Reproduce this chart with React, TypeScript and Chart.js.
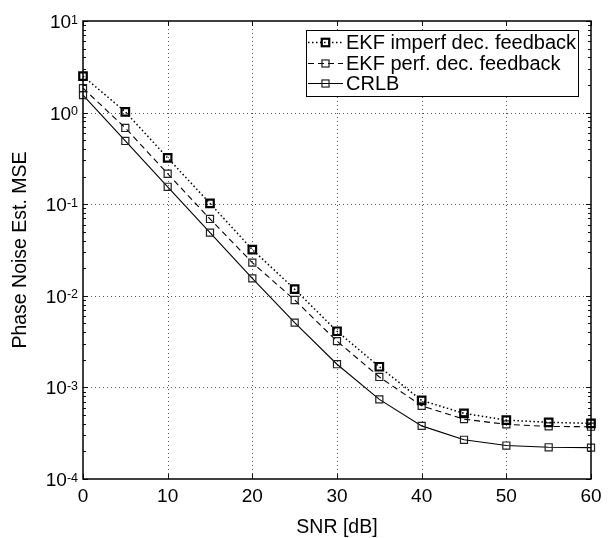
import { useEffect, useRef } from 'react';
import { Chart, registerables } from 'chart.js';

Chart.register(...registerables);

const snr = [0, 5, 10, 15, 20, 25, 30, 35, 40, 45, 50, 55, 60];
const ekfImperf = [2.5, 1.02, 0.32, 0.102, 0.032, 0.0118, 0.0041, 0.00168, 7.2e-4, 5.2e-4, 4.4e-4, 4.15e-4, 4.05e-4];
const ekfPerf = [1.85, 0.68, 0.215, 0.069, 0.023, 0.009, 0.0032, 0.0013, 6.3e-4, 4.5e-4, 3.95e-4, 3.75e-4, 3.72e-4];
const crlb = [1.55, 0.49, 0.155, 0.049, 0.0155, 0.0051, 0.00179, 7.4e-4, 3.8e-4, 2.68e-4, 2.32e-4, 2.22e-4, 2.2e-4];
const seriesNames = ['EKF imperf dec. feedback', 'EKF perf. dec. feedback', 'CRLB'];
const xTicks = [0, 10, 20, 30, 40, 50, 60];
const yExponents = [-4, -3, -2, -1, 0, 1];
const xTitle = 'SNR [dB]';
const yTitle = 'Phase Noise Est. MSE';

const FONT = '"Liberation Sans", Arial, sans-serif';

const framePlugin = {
  id: 'frame',
  beforeDatasetsDraw(chart: any) {
    const { ctx, chartArea: a, scales } = chart;
    const xs = scales.x;
    const ys = scales.y;
    ctx.save();
    ctx.strokeStyle = 'rgba(40,40,40,0.8)';
    ctx.lineWidth = 1;
    ctx.setLineDash([1, 3]);
    for (const t of xTicks) {
      if (t === xTicks[0] || t === xTicks[xTicks.length - 1]) continue;
      const x = Math.round(xs.getPixelForValue(t)) + 0.5;
      ctx.beginPath();
      ctx.moveTo(x, a.top);
      ctx.lineTo(x, a.bottom);
      ctx.stroke();
    }
    for (const e of yExponents) {
      if (e === yExponents[0] || e === yExponents[yExponents.length - 1]) continue;
      const y = Math.round(ys.getPixelForValue(Math.pow(10, e))) + 0.5;
      ctx.beginPath();
      ctx.moveTo(a.left, y);
      ctx.lineTo(a.right, y);
      ctx.stroke();
    }
    ctx.restore();
  },
  afterDatasetsDraw(chart: any) {
    const { ctx, chartArea: a, scales } = chart;
    const xs = scales.x;
    const ys = scales.y;
    ctx.save();
    ctx.setLineDash([]);
    ctx.strokeStyle = '#111';
    ctx.lineWidth = 1;
    ctx.beginPath();
    for (const t of xTicks) {
      const x = Math.round(xs.getPixelForValue(t)) + 0.5;
      ctx.moveTo(x, a.bottom);
      ctx.lineTo(x, a.bottom - 5);
      ctx.moveTo(x, a.top);
      ctx.lineTo(x, a.top + 5);
    }
    for (let i = 0; i < yExponents.length; i++) {
      const e = yExponents[i];
      const y = Math.round(ys.getPixelForValue(Math.pow(10, e))) + 0.5;
      ctx.moveTo(a.left, y);
      ctx.lineTo(a.left + 5, y);
      ctx.moveTo(a.right, y);
      ctx.lineTo(a.right - 5, y);
      if (i < yExponents.length - 1) {
        for (let m = 2; m <= 9; m++) {
          const ym = Math.round(ys.getPixelForValue(m * Math.pow(10, e))) + 0.5;
          ctx.moveTo(a.left, ym);
          ctx.lineTo(a.left + 3, ym);
          ctx.moveTo(a.right, ym);
          ctx.lineTo(a.right - 3, ym);
        }
      }
    }
    ctx.stroke();
    ctx.lineWidth = 1.5;
    ctx.strokeStyle = '#000';
    ctx.strokeRect(Math.round(a.left), Math.round(a.top), Math.round(a.right - a.left), Math.round(a.bottom - a.top));
    ctx.fillStyle = '#000';
    ctx.textBaseline = 'alphabetic';
    ctx.textAlign = 'left';
    for (const e of yExponents) {
      const y = ys.getPixelForValue(Math.pow(10, e));
      const base = '10';
      const ex = String(e);
      ctx.font = '19px ' + FONT;
      const w1 = ctx.measureText(base).width;
      ctx.font = '12.5px ' + FONT;
      const w2 = ctx.measureText(ex).width;
      const x0 = a.left - 5 - w1 - w2;
      ctx.font = '19px ' + FONT;
      ctx.fillText(base, x0, y + 7);
      ctx.font = '12.5px ' + FONT;
      ctx.fillText(ex, x0 + w1, y + 2.5);
    }
    const lx0 = 306, ly0 = 30, lx1 = 578, ly1 = 96;
    ctx.fillStyle = '#fff';
    ctx.fillRect(lx0, ly0, lx1 - lx0, ly1 - ly0);
    ctx.lineWidth = 1;
    ctx.strokeStyle = '#000';
    ctx.strokeRect(lx0 + 0.5, ly0 + 0.5, lx1 - lx0, ly1 - ly0);
    const rows = [42, 63, 83];
    chart.data.datasets.forEach((ds: any, i: number) => {
      const y = rows[i] + 0.5;
      ctx.save();
      ctx.strokeStyle = ds.borderColor;
      ctx.lineWidth = ds.borderWidth;
      ctx.setLineDash(ds.borderDash || []);
      ctx.beginPath();
      ctx.moveTo(308, y);
      ctx.lineTo(343, y);
      ctx.stroke();
      ctx.setLineDash([]);
      ctx.lineWidth = ds.pointBorderWidth;
      ctx.strokeStyle = ds.pointBorderColor;
      const s = ds.pointRadius * Math.SQRT1_2;
      ctx.fillStyle = '#fff';
      ctx.strokeRect(325.5 - s, y - s, 2 * s, 2 * s);
      ctx.restore();
      ctx.fillStyle = '#000';
      ctx.font = '20px ' + FONT;
      ctx.textBaseline = 'middle';
      ctx.fillText(ds.label, 346, rows[i] + 1);
    });
    ctx.restore();
  },
};

export default function App() {
  const ref = useRef<HTMLCanvasElement | null>(null);
  useEffect(() => {
    if (!ref.current) return;
    const mk = (vals: number[]) => snr.map((x, i) => ({ x, y: vals[i] }));
    const chart = new Chart(ref.current, {
      type: 'line',
      data: {
        datasets: [
          {
            label: seriesNames[0],
            data: mk(ekfImperf),
            borderColor: '#000',
            borderWidth: 1.5,
            borderDash: [1.5, 2.5],
            pointStyle: 'rect',
            pointRadius: 5.3,
            pointBorderWidth: 2.2,
            pointBorderColor: '#000',
            pointBackgroundColor: 'rgba(0,0,0,0)',
            clip: false,
          } as any,
          {
            label: seriesNames[1],
            data: mk(ekfPerf),
            borderColor: '#000',
            borderWidth: 1.1,
            borderDash: [6, 4],
            pointStyle: 'rect',
            pointRadius: 5,
            pointBorderWidth: 1.2,
            pointBorderColor: '#222',
            pointBackgroundColor: 'rgba(0,0,0,0)',
            clip: false,
          } as any,
          {
            label: seriesNames[2],
            data: mk(crlb),
            borderColor: '#000',
            borderWidth: 1.1,
            borderDash: [],
            pointStyle: 'rect',
            pointRadius: 5,
            pointBorderWidth: 1.2,
            pointBorderColor: '#222',
            pointBackgroundColor: 'rgba(0,0,0,0)',
            clip: false,
          } as any,
        ],
      },
      options: {
        animation: false,
        responsive: false,
        events: [],
        layout: { padding: { left: 0, top: 21, right: 17, bottom: 0 } },
        plugins: { legend: { display: false }, tooltip: { enabled: false } },
        scales: {
          x: {
            type: 'linear',
            min: 0,
            max: 60,
            afterFit: (s: any) => { s.height = 59; },
            afterBuildTicks: (s: any) => { s.ticks = xTicks.map((v) => ({ value: v })); },
            grid: { display: false, drawTicks: false, tickLength: 0 },
            border: { display: false },
            ticks: {
              color: '#000',
              font: { family: FONT, size: 19 },
              padding: 6,
              maxRotation: 0,
              autoSkip: false,
            },
            title: {
              display: true,
              text: xTitle,
              color: '#000',
              font: { family: FONT, size: 19.5, lineHeight: 1.05 },
              padding: { top: 0, bottom: 0 },
            },
          },
          y: {
            type: 'logarithmic',
            min: 1e-4,
            max: 10,
            afterFit: (s: any) => { s.width = 83; },
            grid: { display: false, drawTicks: false, tickLength: 0 },
            border: { display: false },
            ticks: { display: false },
            title: {
              display: true,
              text: yTitle,
              color: '#000',
              font: { family: FONT, size: 19.5 },
              padding: { top: 9, bottom: 0 },
            },
          },
        },
      } as any,
      plugins: [framePlugin],
    });
    return () => chart.destroy();
  }, []);
  return (
    <div style={{ position: 'fixed', left: 0, top: 0, width: 608, height: 538, background: '#fff' }}>
      <canvas ref={ref} width={608} height={538} />
    </div>
  );
}
